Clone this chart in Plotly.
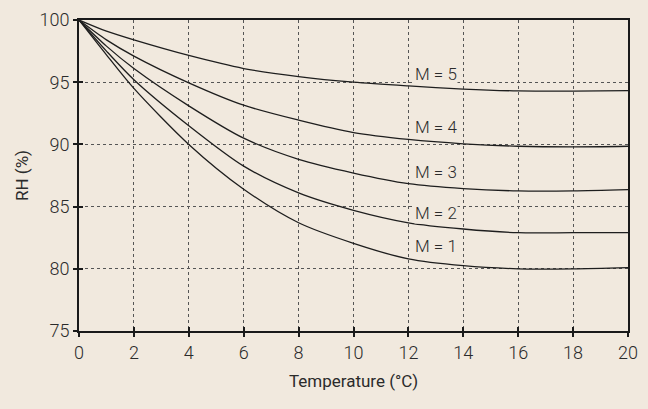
import plotly.graph_objects as go

temps = [0, 1, 2, 4, 6, 8, 10, 12, 14, 16, 18, 20]
rh_m1 = [100, 97.2, 94.5, 90.0, 86.4, 83.7, 82.05, 80.8, 80.25, 80.0, 80.0, 80.1]
rh_m2 = [100, 97.5, 95.2, 91.5, 88.25, 86.1, 84.7, 83.7, 83.2, 82.9, 82.9, 82.9]
rh_m3 = [100, 97.9, 96.1, 93.1, 90.5, 88.8, 87.7, 86.85, 86.45, 86.26, 86.26, 86.36]
rh_m4 = [100, 98.4, 97.1, 94.95, 93.15, 91.95, 90.95, 90.4, 90.05, 89.85, 89.8, 89.85]
rh_m5 = [100, 99.1, 98.4, 97.15, 96.1, 95.45, 95.0, 94.7, 94.45, 94.3, 94.28, 94.33]
series_names = ["M = 1", "M = 2", "M = 3", "M = 4", "M = 5"]
label_x = [13, 13, 13, 13, 13]
label_y = [81.8, 84.5, 87.8, 91.4, 95.65]

x_ticks = list(range(0, 21, 2))
y_ticks = [75, 80, 85, 90, 95, 100]

BG = "#F1E9DE"
FONT = "Roboto, Liberation Sans, sans-serif"
INK = "#2b2b2b"

fig = go.Figure()
for ys in [rh_m1, rh_m2, rh_m3, rh_m4, rh_m5]:
    fig.add_trace(go.Scatter(x=temps, y=ys, mode="lines",
                             line=dict(color="#1e1e1e", width=1.3, shape="spline", smoothing=0.8),
                             showlegend=False, hoverinfo="skip"))

# invisible trace to anchor the overlay axes used for inner tick marks
fig.add_trace(go.Scatter(x=[0], y=[75], xaxis="x2", yaxis="y2", mode="markers",
                         marker=dict(opacity=0), showlegend=False, hoverinfo="skip"))

for name, lx, ly in zip(series_names, label_x, label_y):
    fig.add_annotation(x=lx, y=ly, text=name, showarrow=False,
                       font=dict(family=FONT, size=17, color=INK, weight=300),
                       bgcolor=BG, borderpad=0)

axis_common = dict(showline=True, linecolor="#1a1a1a", linewidth=2, mirror=True,
                   showgrid=True, gridcolor="#555555", griddash="dot", gridwidth=1,
                   ticks="outside", ticklen=4, tickcolor="#1a1a1a", tickwidth=2,
                   zeroline=False, tickfont=dict(family=FONT, size=18, color=INK, weight=300))

fig.update_layout(
    xaxis=dict(range=[0, 20], tickvals=x_ticks, ticktext=[str(v) for v in x_ticks],
               title=dict(text="Temperature (°C)", font=dict(family=FONT, size=17, color=INK), standoff=14),
               **axis_common),
    yaxis=dict(range=[75, 100], tickvals=y_ticks, ticktext=[str(v) for v in y_ticks],
               title=dict(text="RH (%)", font=dict(family=FONT, size=17, color=INK), standoff=6),
               **axis_common),
    xaxis2=dict(overlaying="x", anchor="y2", range=[0, 20], tickvals=x_ticks, ticks="inside",
                ticklen=4, tickwidth=2, tickcolor="#1a1a1a", showticklabels=False,
                showgrid=False, showline=False, zeroline=False, side="bottom"),
    yaxis2=dict(overlaying="y", anchor="x2", range=[75, 100], tickvals=y_ticks, ticks="inside",
                ticklen=4, tickwidth=2, tickcolor="#1a1a1a", showticklabels=False,
                showgrid=False, showline=False, zeroline=False, side="left"),
    width=648, height=409, paper_bgcolor=BG, plot_bgcolor=BG,
    margin=dict(l=79, r=20, t=20, b=78, autoexpand=False), showlegend=False,
)

fig.write_html("out.html", config={"displayModeBar": False},
               post_script="document.body.style.margin='0';document.body.style.background='%s';" % BG)
